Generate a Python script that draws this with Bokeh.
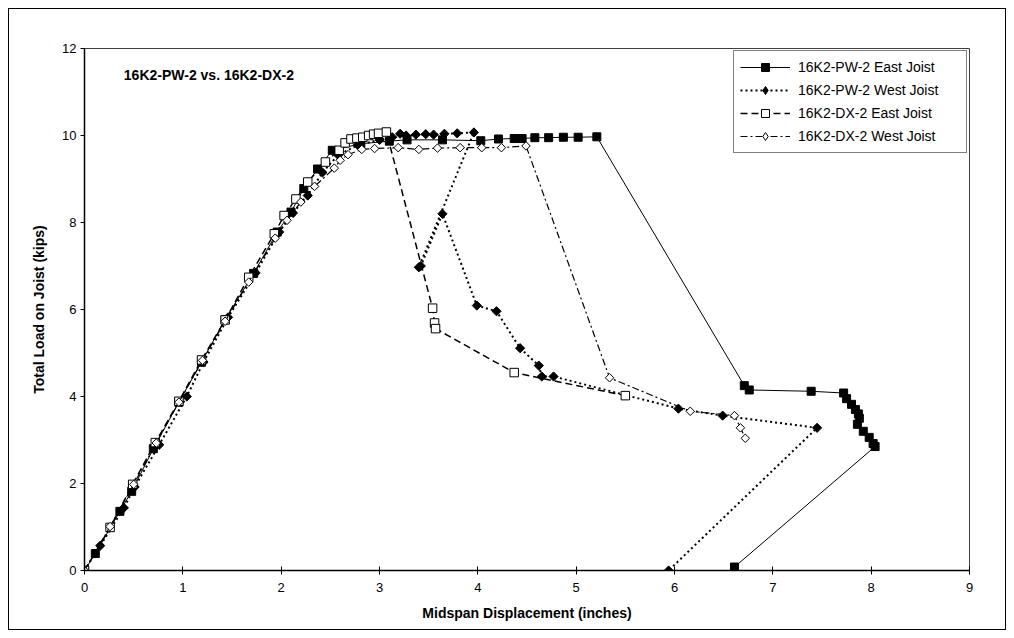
import numpy as np
from bokeh.plotting import figure
from bokeh.models import Range1d, Legend, LegendItem, Label, FixedTicker
from bokeh.embed import file_html
from bokeh.resources import INLINE

# ---- data ----
pw_east_x = [0, 0.11, 0.36, 0.48, 0.70, 0.96, 1.19, 1.43, 1.72, 1.96, 2.10, 2.23, 2.37, 2.52,
             2.81, 3.10, 3.28, 3.64, 4.03, 4.21, 4.37, 4.45, 4.58, 4.72, 4.87, 5.02, 5.21,
             6.71, 6.76, 7.39, 7.72, 7.75, 7.80, 7.84, 7.87, 7.88, 7.86, 7.92, 7.98, 8.02, 8.04, 6.61]
pw_east_y = [0, 0.39, 1.36, 1.82, 2.80, 3.87, 4.79, 5.77, 6.83, 7.78, 8.24, 8.78, 9.23, 9.66,
             9.81, 9.87, 9.90, 9.90, 9.88, 9.92, 9.93, 9.93, 9.95, 9.95, 9.96, 9.96, 9.97,
             4.25, 4.15, 4.12, 4.08, 3.95, 3.82, 3.70, 3.60, 3.50, 3.36, 3.20, 3.06, 2.92, 2.85, 0.08]

pw_west_x = [0, 0.16, 0.40, 0.51, 0.76, 1.04, 1.21, 1.46, 1.74, 1.98, 2.12, 2.27, 2.42, 2.58,
             2.78, 3.00, 3.13, 3.21, 3.27, 3.37, 3.47, 3.55, 3.66, 3.79, 3.96,
             3.40, 3.42, 3.64, 3.99, 4.19, 4.43, 4.62, 4.65, 4.77, 6.04, 6.49, 7.45, 5.94]
pw_west_y = [0, 0.57, 1.44, 1.92, 2.89, 4.00, 4.79, 5.82, 6.84, 7.78, 8.22, 8.62, 9.15, 9.55,
             9.78, 9.90, 9.96, 10.04, 10.00, 10.02, 10.03, 10.02, 10.04, 10.05, 10.07,
             6.97, 7.00, 8.20, 6.09, 5.96, 5.11, 4.71, 4.46, 4.46, 3.72, 3.56, 3.28, 0.0]

dx_east_x = [0, 0.26, 0.49, 0.72, 0.96, 1.19, 1.43, 1.67, 1.93, 2.03, 2.15, 2.27, 2.45, 2.59,
             2.65, 2.71, 2.77, 2.83, 2.89, 2.94, 2.99, 3.07, 3.54, 3.56, 3.57, 4.37, 5.50]
dx_east_y = [0, 0.99, 1.98, 2.94, 3.89, 4.84, 5.76, 6.74, 7.74, 8.16, 8.54, 8.93, 9.39, 9.66,
             9.83, 9.92, 9.94, 9.96, 10.00, 10.03, 10.05, 10.08, 6.03, 5.69, 5.56, 4.55, 4.02]

dx_west_x = [0, 0.26, 0.50, 0.73, 0.96, 1.20, 1.43, 1.67, 1.94, 2.06, 2.20, 2.34, 2.54, 2.60,
             2.68, 2.82, 2.95, 3.19, 3.40, 3.59, 3.82, 4.04, 4.24, 4.49, 5.34, 6.16, 6.61, 6.67, 6.72]
dx_west_y = [0, 1.01, 1.98, 2.93, 3.87, 4.83, 5.73, 6.63, 7.64, 8.05, 8.47, 8.83, 9.25, 9.43,
             9.56, 9.68, 9.70, 9.72, 9.68, 9.71, 9.72, 9.72, 9.72, 9.76, 4.43, 3.66, 3.56, 3.28, 3.04]

series_names = ["16K2-PW-2 East Joist", "16K2-PW-2 West Joist",
                "16K2-DX-2 East Joist", "16K2-DX-2 West Joist"]
title_text = "16K2-PW-2 vs. 16K2-DX-2"
x_title = "Midspan Displacement (inches)"
y_title = "Total Load on Joist (kips)"
x_ticks = [0, 1, 2, 3, 4, 5, 6, 7, 8, 9]
y_ticks = [0, 2, 4, 6, 8, 10, 12]

FONT = "Liberation Sans"

p = figure(frame_width=885, frame_height=522,
           x_range=Range1d(0, 9), y_range=Range1d(0, 12),
           output_backend="svg", toolbar_location=None,
           min_border_left=75, min_border_right=36, min_border_top=39, min_border_bottom=59)
p.margin = (8, 8, 8, 8)
p.styles = {"border": "1px solid black"}
p.background_fill_color = "white"
p.border_fill_color = "white"
p.outline_line_color = "#404040"
p.outline_line_width = 1
p.xgrid.visible = False
p.ygrid.visible = False

for ax in (p.xaxis[0], p.yaxis[0]):
    ax.axis_line_color = "black"
    ax.axis_line_width = 1.5
    ax.major_tick_line_color = "black"
    ax.minor_tick_line_color = None
    ax.major_label_text_font = FONT
    ax.major_label_text_font_size = "13px"
    ax.major_label_text_color = "black"
    ax.axis_label_text_font = FONT
    ax.axis_label_text_font_size = "14px"
    ax.axis_label_text_font_style = "bold"
    ax.axis_label_text_color = "black"

p.xaxis.ticker = FixedTicker(ticks=x_ticks)
p.yaxis.ticker = FixedTicker(ticks=y_ticks)
p.xaxis.major_tick_in = 4
p.xaxis.major_tick_out = 4
p.yaxis.major_tick_in = 0
p.yaxis.major_tick_out = 4
p.xaxis.major_label_standoff = 8
p.yaxis.major_label_standoff = 4
p.xaxis.axis_label = x_title
p.yaxis.axis_label = y_title
p.xaxis.axis_label_standoff = 10
p.yaxis.axis_label_standoff = 12

r1l = p.line(pw_east_x, pw_east_y, line_color="black", line_width=1)
r1m = p.scatter(pw_east_x, pw_east_y, marker="square", size=8,
                fill_color="black", line_color="black")

r2l = p.line(pw_west_x, pw_west_y, line_color="black", line_width=2, line_dash="2 3")
r2m = p.scatter(pw_west_x, pw_west_y, marker="square", angle=np.pi / 4, size=6.5,
                fill_color="black", line_color="black")

r3l = p.line(dx_east_x, dx_east_y, line_color="black", line_width=1.5, line_dash="7 4")
r3m = p.scatter(dx_east_x, dx_east_y, marker="square", size=8.5,
                fill_color="white", line_color="black", line_width=1)

r4l = p.line(dx_west_x, dx_west_y, line_color="black", line_width=1.2, line_dash="7 3 2 3")
r4m = p.scatter(dx_west_x, dx_west_y, marker="square", angle=np.pi / 4, size=6,
                fill_color="white", line_color="black", line_width=1)

# hidden copies of the diamond series, used only for the legend swatches
# (the legend does not draw marker rotation)
k2 = p.scatter(pw_west_x, pw_west_y, marker="diamond", size=12,
               fill_color="black", line_color="black", visible=False)
k4 = p.scatter(dx_west_x, dx_west_y, marker="diamond", size=11,
               fill_color="white", line_color="black", visible=False)

legend = Legend(items=[
    LegendItem(label=series_names[0], renderers=[r1l, r1m]),
    LegendItem(label=series_names[1], renderers=[r2l, k2]),
    LegendItem(label=series_names[2], renderers=[r3l, r3m]),
    LegendItem(label=series_names[3], renderers=[r4l, k4]),
], location="top_right")
legend.margin = 2
legend.padding = 6
legend.spacing = 3
legend.label_height = 20
legend.glyph_height = 20
legend.glyph_width = 50
legend.label_standoff = 8
legend.label_width = 162
legend.label_text_font = FONT
legend.label_text_font_size = "14px"
legend.label_text_color = "black"
legend.border_line_color = "black"
legend.border_line_width = 1
legend.background_fill_color = "white"
legend.background_fill_alpha = 1
p.add_layout(legend, "center")

p.add_layout(Label(x=0.40, y=11.38, text=title_text, text_font=FONT,
                   text_font_size="14px", text_font_style="bold",
                   text_color="black", text_baseline="middle", text_align="left"))

open("out.html", "w").write(file_html(p, INLINE))
